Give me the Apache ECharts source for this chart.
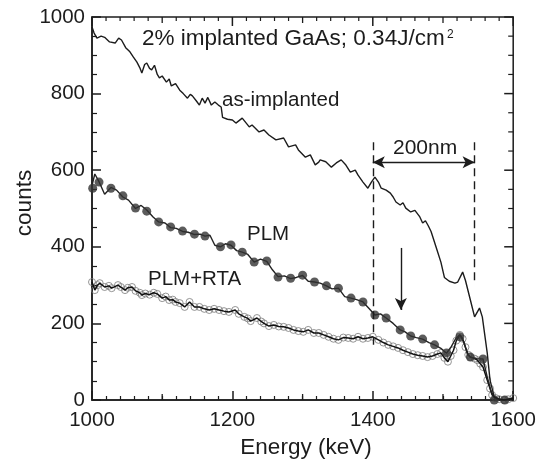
<!DOCTYPE html>
<html><head><meta charset="utf-8">
<script src="https://cdn.jsdelivr.net/npm/echarts@6/dist/echarts.min.js"></script>
<style>html,body{margin:0;padding:0;background:#fff}#c{width:539px;height:464px}</style>
</head><body><div id="c"></div>
<script>
// ---- data ----
const asImplE = [1000,1003,1007,1013,1018,1025,1033,1038,1042,1048,1054,1059,1064,1068,1071,1075,1078,1082,1085,1089,1093,1096,1100,1106,1110,1113,1119,1125,1130,1136,1140,1143,1149,1153,1157,1161,1165,1170,1175,1180,1184,1186,1193,1200,1205,1214,1224,1228,1238,1245,1252,1262,1273,1280,1290,1294,1304,1311,1318,1323,1325,1333,1341,1348,1355,1361,1368,1375,1379,1386,1393,1398,1403,1408,1412,1419,1425,1429,1433,1439,1443,1447,1454,1460,1467,1471,1475,1479,1483,1490,1497,1502,1509,1517,1521,1528,1532,1539,1545,1552,1556,1563,1567,1573,1580,1587,1595,1600];
const asImplC = [974,958,945,950,947,935,932,945,940,920,909,895,882,868,854,876,880,866,862,874,850,841,846,830,838,820,826,809,800,788,798,794,780,770,788,775,790,770,778,770,765,738,733,731,723,736,713,718,700,705,692,679,684,661,666,653,634,640,614,621,627,622,608,619,627,615,595,600,587,569,553,569,582,569,553,548,540,530,517,509,515,501,491,495,478,462,468,455,440,400,360,320,310,305,308,334,312,261,217,240,217,123,52,8,2,0,3,0];

const plmE = [1000,1004,1010,1018,1027,1035,1044,1052,1062,1070,1078,1087,1095,1104,1112,1120,1129,1137,1146,1154,1161,1168,1175,1183,1190,1198,1206,1214,1222,1231,1240,1249,1257,1265,1274,1283,1291,1300,1308,1317,1325,1334,1342,1351,1360,1369,1377,1386,1394,1403,1411,1419,1429,1439,1446,1454,1462,1471,1480,1488,1497,1505,1512,1518,1524,1530,1535,1539,1548,1557,1563,1568,1573,1580,1588,1600];
const plmC = [560,590,570,537,555,548,530,522,500,508,496,478,465,462,450,448,440,438,432,433,428,430,404,400,408,404,390,386,380,360,368,362,340,322,324,317,320,325,310,308,305,298,290,292,270,266,262,256,240,222,225,214,200,183,178,167,163,159,150,144,135,122,140,160,170,150,118,112,108,107,60,26,5,0,0,0];

const plmDotE = [1001,1010,1027,1044,1062,1078,1095,1112,1129,1146,1161,1183,1198,1214,1231,1249,1265,1283,1300,1317,1334,1351,1369,1386,1403,1419,1439,1454,1471,1488,1505,1524,1539,1557,1573,1588];
const plmDotC = [553,569,553,533,501,493,465,452,441,433,428,400,405,386,360,363,321,318,326,308,298,292,266,256,222,214,183,167,159,144,123,165,112,107,0,0];

const rtaE = [1000,1004,1008,1011,1018,1024,1028,1037,1041,1047,1051,1057,1062,1068,1071,1076,1082,1088,1093,1100,1105,1110,1115,1119,1125,1132,1139,1146,1153,1160,1167,1174,1181,1188,1195,1204,1209,1217,1222,1226,1235,1241,1245,1252,1259,1266,1273,1280,1287,1294,1301,1308,1316,1323,1330,1337,1344,1351,1358,1365,1372,1379,1386,1393,1400,1408,1415,1422,1429,1436,1443,1450,1457,1464,1471,1478,1485,1492,1497,1502,1507,1511,1515,1519,1524,1528,1532,1536,1539,1545,1549,1553,1557,1563,1567,1570,1575,1580,1587,1593,1600];
const rtaC = [308,287,300,305,295,298,292,300,295,287,293,295,285,280,274,278,275,280,277,266,270,261,262,256,253,243,256,243,243,238,235,238,235,232,230,235,225,217,213,206,214,205,200,193,196,192,191,188,183,180,178,183,175,175,170,165,160,157,163,162,160,165,160,162,165,157,150,144,140,136,130,125,120,117,115,112,115,120,123,110,100,115,130,155,170,160,138,118,112,108,104,95,86,52,30,13,5,2,0,2,5];

const xTicks = [1000, 1200, 1400, 1600];
const yTicks = [0, 200, 400, 600, 800, 1000];
const xMinorStep = 20, xMidStep = 100, yMinorStep = 50;

// annotation anchors (data units)
const dashE = [1400, 1545];
const dashTop = 673;
const dashBottom = [144, 303];
const spanArrowY = 621;
const downArrowE = 1440;
const downArrowC = [397, 235];

// ---- build ----
const zip = (a, b) => a.map((v, i) => [v, b[i]]);
const FONT = '"Liberation Sans", Arial, Helvetica, sans-serif';
const INK = '#1c1c1c';
const xMin = xTicks[0], xMax = xTicks[xTicks.length - 1];
const yMin = yTicks[0], yMax = yTicks[yTicks.length - 1];

const chart = echarts.init(document.getElementById('c'), null, {renderer: 'canvas'});

const texts = [
  {type: 'text', x: 142, y: 39, style: {text: '2% implanted GaAs; 0.34J/cm', font: '22.5px ' + FONT, fill: INK, align: 'left', verticalAlign: 'middle'}},
  {type: 'text', x: 447, y: 35, style: {text: '2', font: '12px ' + FONT, fill: INK, align: 'left', verticalAlign: 'middle'}},
  {type: 'text', x: 222, y: 100, style: {text: 'as-implanted', font: '20.5px ' + FONT, fill: INK, align: 'left', verticalAlign: 'middle'}},
  {type: 'text', x: 393, y: 148, style: {text: '200nm', font: '21px ' + FONT, fill: INK, align: 'left', verticalAlign: 'middle'}},
  {type: 'text', x: 247, y: 234, style: {text: 'PLM', font: '20.5px ' + FONT, fill: INK, align: 'left', verticalAlign: 'middle'}},
  {type: 'text', x: 148, y: 279, style: {text: 'PLM+RTA', font: '20.5px ' + FONT, fill: INK, align: 'left', verticalAlign: 'middle'}},
  {type: 'text', x: 25, y: 203, rotation: Math.PI / 2, style: {text: 'counts', font: '22.5px ' + FONT, fill: INK, align: 'center', verticalAlign: 'middle'}},
  {type: 'text', x: 306, y: 448, style: {text: 'Energy (keV)', font: '22.5px ' + FONT, fill: INK, align: 'center', verticalAlign: 'middle'}}
];

const option = {
  animation: false,
  backgroundColor: '#fff',
  grid: {left: 92, right: 23, top: 17, bottom: 64, containLabel: false,
         show: true, borderColor: INK, borderWidth: 1.5},
  xAxis: {
    type: 'value', min: xMin, max: xMax, interval: xTicks[1] - xTicks[0],
    axisLine: {show: true, onZero: false, lineStyle: {color: INK, width: 1.5}},
    axisTick: {show: true, inside: true, length: 9, lineStyle: {color: INK, width: 1.5}},
    minorTick: {show: true, splitNumber: (xTicks[1] - xTicks[0]) / xMinorStep, length: 4, lineStyle: {color: INK, width: 1.2}},
    splitLine: {show: false}, minorSplitLine: {show: false},
    axisLabel: {show: true, fontSize: 20.5, margin: 10, color: INK, fontFamily: FONT, formatter: v => String(v)}
  },
  yAxis: {
    type: 'value', min: yMin, max: yMax, interval: yTicks[1] - yTicks[0],
    axisLine: {show: true, onZero: false, lineStyle: {color: INK, width: 1.5}},
    axisTick: {show: true, inside: true, length: 9, lineStyle: {color: INK, width: 1.5}},
    minorTick: {show: true, splitNumber: (yTicks[1] - yTicks[0]) / yMinorStep, length: 5, lineStyle: {color: INK, width: 1.2}},
    splitLine: {show: false}, minorSplitLine: {show: false},
    axisLabel: {show: true, fontSize: 20.5, margin: 7, color: INK, fontFamily: FONT, formatter: v => String(v)}
  },
  series: [
    {
      name: 'as-implanted', type: 'line',
      data: zip(asImplE, asImplC), showSymbol: false, smooth: false,
      lineStyle: {color: INK, width: 1.4}, z: 5,
      markLine: {
        silent: true, animation: false, label: {show: false},
        symbolSize: [9, 12],
        data: [
          [{coord: [dashE[0], dashTop], symbol: 'none', lineStyle: {type: [8, 5], color: INK, width: 1.4}},
           {coord: [dashE[0], dashBottom[0]], symbol: 'none'}],
          [{coord: [dashE[1], dashTop], symbol: 'none', lineStyle: {type: [8, 5], color: INK, width: 1.4}},
           {coord: [dashE[1], dashBottom[1]], symbol: 'none'}],
          [{coord: [dashE[0], spanArrowY], symbol: 'arrow', lineStyle: {type: 'solid', color: INK, width: 1.4}},
           {coord: [dashE[1], spanArrowY], symbol: 'arrow'}],
          [{coord: [downArrowE, downArrowC[0]], symbol: 'none', lineStyle: {type: 'solid', color: INK, width: 1.4}},
           {coord: [downArrowE, downArrowC[1]], symbol: 'arrow'}]
        ]
      }
    },
    {
      name: 'PLM+RTA circles', type: 'scatter', data: zip(rtaE, rtaC),
      symbol: 'circle', symbolSize: 7,
      itemStyle: {color: 'rgba(255,255,255,0)', borderColor: '#7a7a7a', borderWidth: 1}, z: 2
    },
    {
      name: 'PLM+RTA', type: 'line', data: zip(rtaE, rtaC), showSymbol: false,
      lineStyle: {color: '#111', width: 1.5}, z: 3
    },
    {
      name: 'PLM', type: 'line', data: zip(plmE, plmC), showSymbol: false,
      lineStyle: {color: '#222', width: 1.4}, z: 3
    },
    {
      name: 'PLM dots', type: 'scatter', data: zip(plmDotE, plmDotC),
      symbol: 'circle', symbolSize: 9,
      itemStyle: {color: '#333', borderColor: '#333', borderWidth: 0}, z: 4
    }
  ]
};
chart.setOption(option);

// mirrored tick marks on the top and right frame edges, plus medium ticks on the bottom,
// placed through the chart's own scales
const extra = [];
const toPx = (x, y) => chart.convertToPixel({seriesIndex: 0}, [x, y]);
const seg = (p, dx, dy, w) => extra.push({type: 'line',
  shape: {x1: p[0], y1: p[1], x2: p[0] + dx, y2: p[1] + dy}, style: {stroke: INK, lineWidth: w}});
const stepX = xTicks[1] - xTicks[0], stepY = yTicks[1] - yTicks[0];
for (let v = xMin; v <= xMax + 1e-6; v += xMinorStep) {
  let len = 4, w = 1.2;
  if (Math.abs((v - xMin) % stepX) < 1e-6) { len = 9; w = 1.5; }
  else if (Math.abs((v - xMin) % xMidStep) < 1e-6) {
    len = 6; w = 1.3;
    seg(toPx(v, yMin), 0, -len, w);
  }
  seg(toPx(v, yMax), 0, len, w);
}
for (let v = yMin; v <= yMax + 1e-6; v += yMinorStep) {
  let len = 5, w = 1.2;
  if (Math.abs((v - yMin) % stepY) < 1e-6) { len = 9; w = 1.5; }
  seg(toPx(xMax, v), -len, 0, w);
}
chart.setOption({graphic: texts.concat(extra)});
</script>
</body></html>
